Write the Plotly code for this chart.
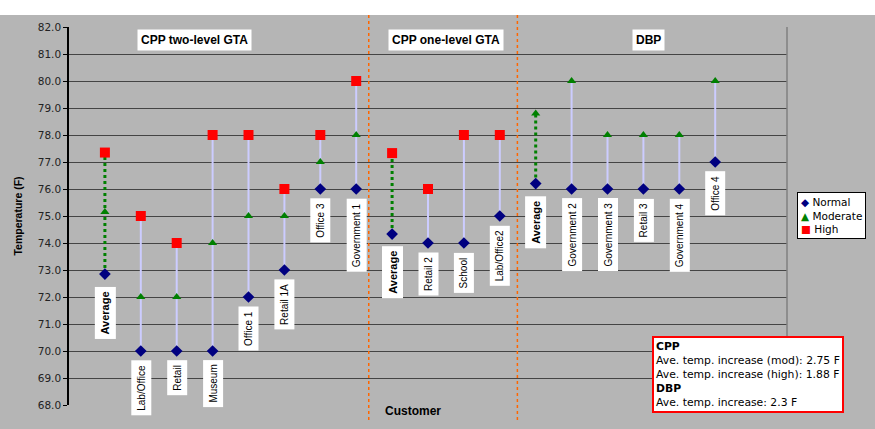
import plotly.graph_objects as go

categories = ["Average", "Lab/Office", "Retail", "Museum", "Office 1", "Retail 1A", "Office 3", "Government 1",
              "Average", "Retail 2", "School", "Lab/Office2",
              "Average", "Government 2", "Government 3", "Retail 3", "Government 4", "Office 4"]
is_average = [True, False, False, False, False, False, False, False,
              True, False, False, False,
              True, False, False, False, False, False]
normal = [72.85, 70, 70, 70, 72, 73, 76, 76,
          74.33, 74, 74, 75,
          76.2, 76, 76, 76, 76, 77]
moderate = [75.15, 72, 72, 74, 75, 75, 77, 78,
            None, None, None, None,
            78.8, 80, 78, 78, 78, 80]
high = [77.35, 75, 74, 78, 78, 76, 78, 80,
        77.33, 76, 78, 78,
        None, None, None, None, None, None]
series_names = ["Normal", "Moderate", "High"]
series_colors = ["#000080", "#008000", "#FF0000"]
series_symbols = ["diamond", "triangle-up", "square"]
series_sizes = [9, 8, 10]
series_glyphs = ["\u25C6", "\u25B2", "\u25A0"]
groups = ["CPP two-level GTA", "CPP one-level GTA", "DBP"]
y_ticks = [68 + i for i in range(15)]
note_lines = ["<b>CPP</b>", "Ave. temp. increase (mod): 2.75 F", "Ave. temp. increase (high): 1.88 F",
              "<b>DBP</b>", "Ave. temp. increase: 2.3 F"]

# style / layout constants
group_label_x = [2.5, 9.49, 15.14]
divider_x = [7.35, 11.49]
label_gap = 9
FONT = "Liberation Sans, Arial"
WIDE = "DejaVu Sans"
BG = "#B5B5B5"

xs = list(range(len(categories)))

# vertical connectors
cx, cy, ax_, ay_ = [], [], [], []
for i in xs:
    top = max(v for v in (normal[i], moderate[i], high[i]) if v is not None)
    if is_average[i]:
        ax_ += [i, i, None]
        ay_ += [normal[i], top, None]
    else:
        cx += [i, i, None]
        cy += [normal[i], top, None]

fig = go.Figure()
fig.add_trace(go.Scatter(x=cx, y=cy, mode="lines", line=dict(color="#CCCCFF", width=2),
                         showlegend=False, hoverinfo="skip"))
fig.add_trace(go.Scatter(x=ax_, y=ay_, mode="lines", line=dict(color="#008000", width=3, dash="dot"),
                         showlegend=False, hoverinfo="skip"))
for name, vals, col, sym, sz in zip(series_names, [normal, moderate, high], series_colors,
                                    series_symbols, series_sizes):
    fig.add_trace(go.Scatter(x=xs, y=vals, mode="markers", name=name, showlegend=False,
                             marker=dict(symbol=sym, size=sz, color=col)))

annotations = []
for i in xs:
    avg = is_average[i]
    txt = "<b>%s</b>" % categories[i] if avg else categories[i]
    annotations.append(dict(x=i, y=normal[i], xref="x", yref="y", text=txt, textangle=-90,
                            showarrow=False, yanchor="top", xanchor="center",
                            yshift=-(label_gap + (3 if avg else 0)),
                            bgcolor="white", borderpad=4,
                            font=dict(family=FONT, size=11 if avg else 10, color="black")))
for g, gx in zip(groups, group_label_x):
    annotations.append(dict(x=gx, y=0.996, xref="x", yref="paper", text="<b>%s</b>" % g,
                            showarrow=False, bgcolor="white", borderpad=3,
                            font=dict(family=FONT, size=12, color="black")))
annotations.append(dict(x=0.479, y=-0.04, xref="paper", yref="paper", text="<b>Customer</b>",
                        showarrow=False, font=dict(family=FONT, size=12, color="black")))
annotations.append(dict(x=0.812, y=-0.02, xref="paper", yref="paper", xanchor="left", yanchor="bottom",
                        text="<br>".join(note_lines), align="left", showarrow=False,
                        bgcolor="white", bordercolor="#FF0000", borderwidth=2, borderpad=2,
                        font=dict(family=WIDE, size=10.8, color="black")))
# legend box
legend_text = "<br>".join("<span style='color:%s'>%s</span> %s" % (c, g, n)
                          for n, c, g in zip(series_names, series_colors, series_glyphs))
annotations.append(dict(x=1.0139, y=0.5635, xref="paper", yref="paper", xanchor="left", yanchor="top",
                        text=legend_text, align="left", showarrow=False, bgcolor="white",
                        bordercolor="black", borderwidth=1, borderpad=3,
                        font=dict(family=WIDE, size=10.5, color="black")))

shapes = [dict(type="rect", xref="paper", yref="paper", x0=-0.2, x1=1.3, y0=1.0317, y1=1.1,
               fillcolor="white", line=dict(width=0), layer="below")]
for dx in divider_x:
    shapes.append(dict(type="line", xref="x", yref="paper", x0=dx, x1=dx, y0=-0.04, y1=1.04,
                       line=dict(color="#FF6600", width=1.5, dash="dot")))
shapes.append(dict(type="line", xref="paper", yref="paper", x0=1, x1=1, y0=0, y1=1,
                   line=dict(color="#808080", width=1.5)))

fig.update_layout(
    width=875, height=429,
    margin=dict(l=69, r=88, t=27, b=24, autoexpand=False),
    paper_bgcolor=BG, plot_bgcolor=BG,
    font=dict(family=FONT, size=11, color="#222222"),
    showlegend=False,
    xaxis=dict(range=[-1, 19], showticklabels=False, showgrid=False, zeroline=False, ticks="",
               automargin=False),
    yaxis=dict(range=[68, 82], tickvals=y_ticks, tickformat=".1f", showgrid=True, automargin=False,
               gridcolor="#444444", gridwidth=1, zeroline=False, showline=True, linecolor="black",
               linewidth=1.5, ticks="outside", ticklen=4, tickcolor="black",
               tickfont=dict(family=WIDE, size=10.5, color="#222222"),
               title=dict(text="<b>Temperature (F)</b>", font=dict(family=FONT, size=10.5, color="black"),
                          standoff=13)),
    annotations=annotations, shapes=shapes,
)
fig.write_html("out.html", config={"displayModeBar": False},
               post_script="document.body.style.margin='0';")
